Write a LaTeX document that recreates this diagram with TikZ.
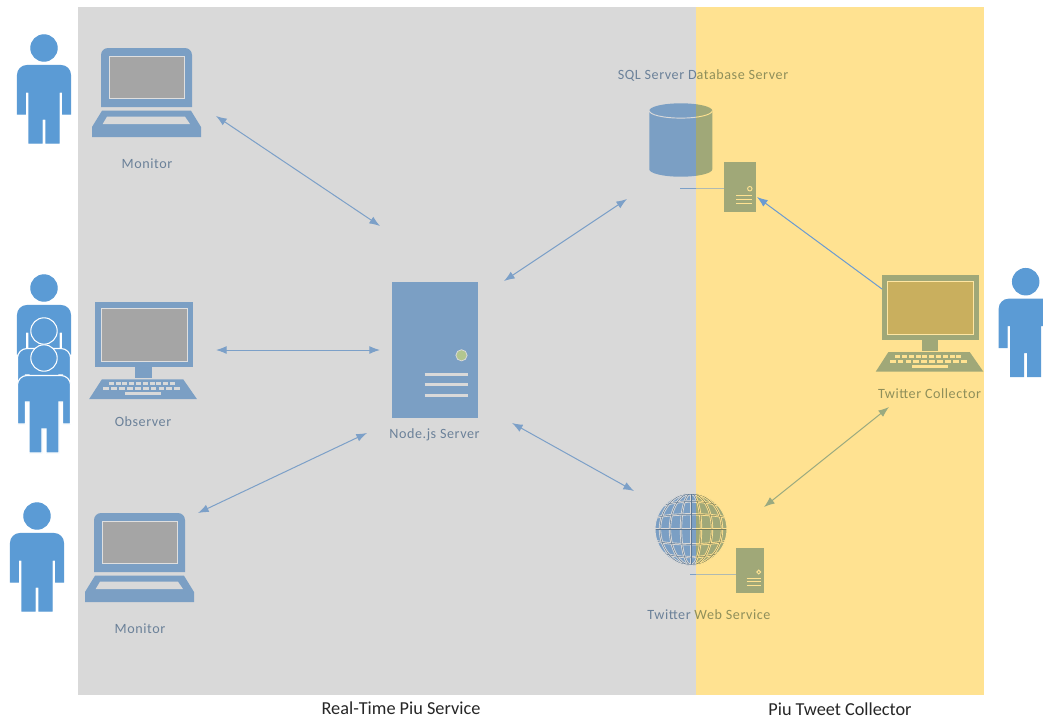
\documentclass[tikz,border=0pt]{standalone}
\usepackage{fontspec}
\setmainfont{Carlito}
\usetikzlibrary{arrows.meta}
\definecolor{panelgray}{HTML}{D9D9D9}
\definecolor{panelyellow}{HTML}{FFE291}
\definecolor{person}{HTML}{5B9BD5}
\definecolor{devblue}{HTML}{7B9FC4}
\definecolor{devolive}{HTML}{A0A878}
\definecolor{scrgray}{HTML}{A5A5A5}
\definecolor{scryellow}{HTML}{C9AF5E}
\definecolor{lblblue}{HTML}{6B8199}
\definecolor{lblolive}{HTML}{8F8F5A}
\definecolor{lineblue}{HTML}{7CA0C8}
\definecolor{linebright}{HTML}{6A9BD2}
\definecolor{lineolive}{HTML}{9AAA80}
\definecolor{ledgreen}{HTML}{B3C68F}
\tikzset{
  ongray/.code={\colorlet{dev}{devblue}\colorlet{devbg}{panelgray}\colorlet{scr}{scrgray}},
  onyellow/.code={\colorlet{dev}{devolive}\colorlet{devbg}{panelyellow}\colorlet{scr}{scryellow}},
  devlabel/.style={inner sep=0pt,font=\fontsize{10.6pt}{12pt}\selectfont\addfontfeatures{LetterSpace=4}},
  caption/.style={inner sep=0pt,font=\fontsize{13.7pt}{15pt}\selectfont,text=black!85},
  link/.style={line width=.75pt,{Latex[length=8pt,width=6pt]}-{Latex[length=8pt,width=6pt]}},
  onelink/.style={line width=.75pt,-{Latex[length=8pt,width=6pt]}},
  personpic/.pic={
    \fill[person,draw=#1,line width=.8pt] (0,0) circle (13.2);
    \fill[person,draw=#1,line width=.8pt]
      (-26.5,66) -- (-26.5,27) arc[start angle=180,end angle=270,radius=9.5]
      -- (17,17.5) arc[start angle=270,end angle=360,radius=9.5]
      -- (26.5,66) -- (18.7,66) -- (18.7,44) -- (15,44) -- (15,95) -- (2,95) -- (2,71)
      -- (-2,71) -- (-2,95) -- (-15,95) -- (-15,44) -- (-18.7,44) -- (-18.7,66) -- cycle;
  },
  personpic/.default=person,
  laptoppic/.pic={
    \fill[dev] (-45.5,59) -- (-45.5,7) arc[start angle=180,end angle=270,radius=7]
      -- (38.5,0) arc[start angle=270,end angle=360,radius=7] -- (45.5,59) -- cycle;
    \fill[scr,draw=devbg!85!white,line width=.6pt] (-37.5,8) rectangle (37.5,50);
    \fill[dev] (-44.5,62.7) -- (44.5,62.7) -- (54.5,79) -- (54.5,89) -- (-54.5,89) -- (-54.5,79) -- cycle;
    \fill[devbg] (-39.5,68.7) -- (38.5,68.7) -- (43.5,76) -- (-43.8,76) -- cycle;
  },
  desktoppic/.pic={
    \fill[dev] (-48.7,0) rectangle (49,64.7);
    \fill[scr,draw=devbg!85!white,line width=.6pt] (-42.5,6) rectangle (43.5,59.4);
    \fill[dev] (-8.5,64.7) rectangle (8.2,76);
    \fill[dev] (-41.8,77) -- (39.5,77) -- (53.2,96.7) -- (-54.5,96.7) -- cycle;
    \foreach \k in {0,...,9} {
      \fill[devbg] (-35+\k*6.8,80) rectangle ++(5,3);
      \fill[devbg] (-40.5+\k*7.9,85) rectangle ++(5.8,3);
    }
    \fill[devbg] (-18.5,90) rectangle (17.5,92.7);
  },
  serverpic/.pic={
    \fill[dev] (-43.3,0) rectangle (43.3,136);
    \fill[ledgreen,draw=devbg,line width=.6pt] (26.5,73) circle (5.6);
    \foreach \r in {92,102.5,113}
      \draw[devbg,line width=2.2pt] (-10.5,\r) -- (32.5,\r);
  },
  smallserver/.pic={
    \fill[dev] (-43.3,0) rectangle (43.3,136);
    \draw[devbg,line width=.7pt] (26.5,73) circle (6);
    \foreach \r in {92,102.5,113}
      \draw[devbg,line width=.9pt] (-10.5,\r) -- (32.5,\r);
  },
  cylinderpic/.pic={
    \fill[dev] (-31.5,0) -- (-31.5,58.6) arc[start angle=180,end angle=0,x radius=31.5,y radius=7.4]
      -- (31.5,0) arc[start angle=0,end angle=-180,x radius=31.5,y radius=7.4] -- cycle;
    \draw[devbg,line width=.7pt] (-31.5,0) arc[start angle=180,end angle=0,x radius=31.5,y radius=7.4];
  },
  globepic/.pic={
    \fill[dev] (0,0) circle (36);
    \begin{scope}
      \clip (0,0) circle (36);
      \foreach \g/\w in {devbg/1.7pt,dev!75!black/.35pt} {
        \draw[\g,line width=\w] (-36,0) -- (36,0) (0,-36) -- (0,36);
        \foreach \rx in {10,21,31} \draw[\g,line width=\w] (0,0) ellipse[x radius=\rx,y radius=36];
        \foreach \la/\hw/\b in {12/34/4,24/27/5,32/17/4} {
          \draw[\g,line width=\w] (-\hw,-\la) .. controls (-\hw/2,-\la-\b) and (\hw/2,-\la-\b) .. (\hw,-\la);
          \draw[\g,line width=\w] (-\hw,\la) .. controls (-\hw/2,\la+\b) and (\hw/2,\la+\b) .. (\hw,\la);
        }
      }
    \end{scope}
    \draw[devbg,line width=.8pt] (0,0) circle (36);
  },
}
\begin{document}
\begin{tikzpicture}[x=.75pt,y=-.75pt]
\clip (0,0) rectangle (1043,719);
\fill[white] (0,0) rectangle (1043,719);
% people
\path (44,48) pic {personpic};
\path (44,288) pic {personpic};
\path (44,331) pic {personpic=white};
\path (44,358) pic {personpic=white};
\path (37,516) pic {personpic};
\path (1025.7,281.7) pic {personpic};
% panels
\fill[panelgray] (78,7) rectangle (696,695);
\fill[panelyellow] (696,7) rectangle (984,695);
% device icons on one panel
\begin{scope}[ongray]
  \path (146.5,48) pic {laptoppic};
  \path (139.5,513) pic {laptoppic};
  \path (143.7,302.3) pic {desktoppic};
  \path (435,282.3) pic {serverpic};
  \draw[lineblue,line width=.75pt] (680,188) -- (696,188);
  \draw[lineblue,line width=.75pt] (690,574) -- (696,574);
\end{scope}
\begin{scope}[onyellow]
  \draw[lineblue!60!panelyellow,line width=.75pt] (696,188) -- (724,188);
  \draw[lineblue!60!panelyellow,line width=.75pt] (696,574) -- (736,574);
  \path (930.2,275) pic {desktoppic};
  \path (740,161.7) pic[scale=.37] {smallserver};
  \path (750,548) pic[scale=.33] {smallserver};
\end{scope}
% icons that straddle the two panels
\begin{scope}
  \clip (600,0) rectangle (696,719);
  \begin{scope}[ongray]
    \path (680.8,110.7) pic {cylinderpic};
    \path (691,529.3) pic {globepic};
  \end{scope}
\end{scope}
\begin{scope}
  \clip (696,0) rectangle (800,719);
  \begin{scope}[onyellow]
    \path (680.8,110.7) pic {cylinderpic};
    \path (691,529.3) pic {globepic};
  \end{scope}
\end{scope}
% labels
\node[devlabel,text=lblblue] (lblmon1) at (147,163.5) {Monitor};
\node[devlabel,text=lblblue] (lblobs) at (143,421.5) {Observer};
\node[devlabel,text=lblblue] (lblmon2) at (140,628.5) {Monitor};
\node[devlabel,text=lblblue] (lblnode) at (434.5,434.5) {Node.js Server};
\node[devlabel,text=lblblue] (lblsql) at (703,75.5) {SQL Server D\textcolor{lblolive}{atabase Server}};
\node[devlabel,text=lblblue] (lblweb) at (709,614.5) {Twitter \textcolor{lblolive}{Web Service}};
\node[devlabel,text=lblolive] (lblcol) at (929.5,393.5) {Twitter Collector};
\node[caption] (capl) at (401,708) {Real-Time Piu Service};
\node[caption] (capr) at (840,709.5) {Piu Tweet Collector};
% connector ends
\coordinate (mon1) at (216,116);
\coordinate (nodeA) at (380,226);
\coordinate (obs) at (216,350);
\coordinate (nodeB) at (380,350);
\coordinate (mon2) at (198,513);
\coordinate (nodeC) at (367,433);
\coordinate (nodeD) at (504,281);
\coordinate (sql) at (627,199);
\coordinate (nodeE) at (512,423);
\coordinate (web) at (634,491);
\coordinate (colA) at (882,289);
\coordinate (sqlsrv) at (757,197);
\coordinate (webB) at (764,507);
\coordinate (colB) at (889,407);
% connectors
\draw[link,lineblue] (mon1) -- (nodeA);
\draw[link,lineblue] (obs) -- (nodeB);
\draw[link,lineblue] (mon2) -- (nodeC);
\draw[link,lineblue] (nodeD) -- (sql);
\draw[link,lineblue] (nodeE) -- (web);
\draw[onelink,linebright] (colA) -- (sqlsrv);
\draw[link,lineolive] (webB) -- (colB);
\end{tikzpicture}
\end{document}
